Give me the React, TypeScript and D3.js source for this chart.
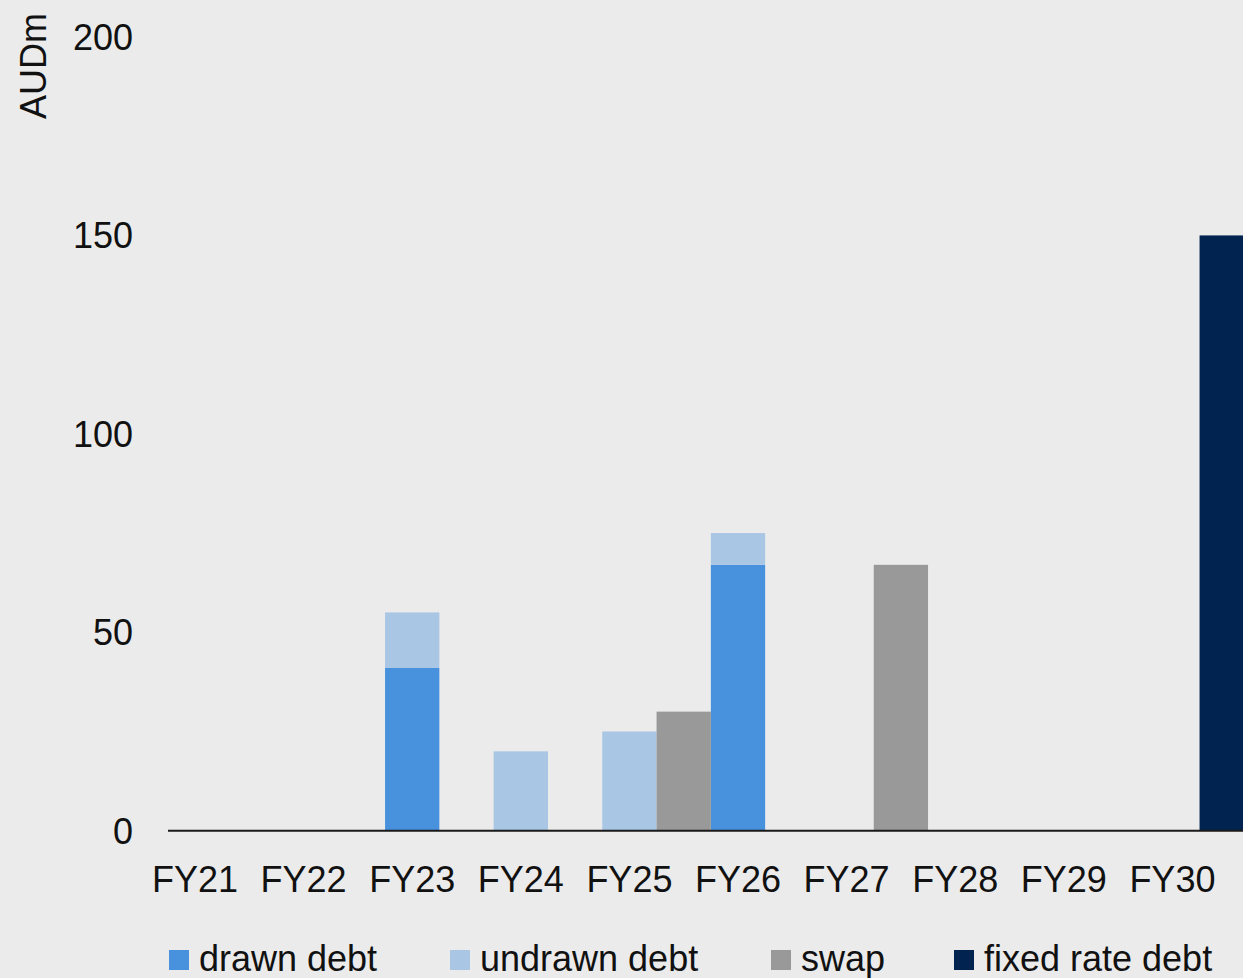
import * as d3 from "d3";

const categories = ["FY21", "FY22", "FY23", "FY24", "FY25", "FY26", "FY27", "FY28", "FY29", "FY30"];
const drawnDebt = [0, 0, 41, 0, 0, 67, 0, 0, 0, 0];
const undrawnDebt = [0, 0, 14, 20, 25, 8, 0, 0, 0, 0];
const swap = [0, 0, 0, 0, 30, 0, 67, 0, 0, 0];
const fixedRateDebt = [0, 0, 0, 0, 0, 0, 0, 0, 0, 150];
const yTicks = [0, 50, 100, 150, 200];

const legendItems = [
  { label: "drawn debt", color: "#4891DC", x: 169 },
  { label: "undrawn debt", color: "#A9C6E5", x: 450 },
  { label: "swap", color: "#999999", x: 771 },
  { label: "fixed rate debt", color: "#00234F", x: 954 },
];

const FONT = "'Liberation Sans', Arial, sans-serif";

function DebtChart({ width = 1243, height = 978 }: { width?: number; height?: number }) {
  const x = d3
    .scaleBand<string>()
    .domain(categories)
    .range([140.7, 140.7 + 108.6 * categories.length])
    .padding(0);
  const y = d3.scaleLinear().domain([0, 200]).range([830.7, 37]);
  const barW = x.bandwidth() / 2;

  const rows = categories.map((c, i) => ({ cat: c, drawn: drawnDebt[i], undrawn: undrawnDebt[i] }));
  const stacked = d3.stack<any>().keys(["drawn", "undrawn"])(rows);
  const stackColors: Record<string, string> = { drawn: "#4891DC", undrawn: "#A9C6E5" };

  return (
    <svg
      width={width}
      height={height}
      style={{ position: "absolute", left: 0, top: 0, display: "block", background: "#EBEBEB" }}
      fontFamily={FONT}
    >
      <rect width={width} height={height} fill="#EBEBEB" />

      {/* debt bars, stacked, centred on each year */}
      {stacked.map(layer => (
        <g key={layer.key} fill={stackColors[layer.key]}>
          {layer.map((d, i) =>
            d[1] - d[0] > 0 ? (
              <rect
                key={i}
                x={(x(categories[i]) ?? 0) + barW / 2}
                y={y(d[1])}
                width={barW}
                height={y(d[0]) - y(d[1])}
              />
            ) : null
          )}
        </g>
      ))}

      {/* swap and fixed rate bars sit half a band to the right */}
      {swap.map((v, i) =>
        v > 0 ? (
          <rect key={"s" + i} x={(x(categories[i]) ?? 0) + barW * 1.5} y={y(v)} width={barW} height={y(0) - y(v)} fill="#999999" />
        ) : null
      )}
      {fixedRateDebt.map((v, i) =>
        v > 0 ? (
          <rect key={"f" + i} x={(x(categories[i]) ?? 0) + barW * 1.5} y={y(v)} width={barW} height={y(0) - y(v)} fill="#00234F" />
        ) : null
      )}

      {/* baseline */}
      <line x1={168} x2={width} y1={y(0)} y2={y(0)} stroke="#1a1a1a" strokeWidth={2} />

      {/* y ticks */}
      {yTicks.map(t => (
        <text key={t} x={133} y={y(t)} dy="0.36em" textAnchor="end" fontSize={36} fill="#111">
          {t}
        </text>
      ))}
      <text transform="translate(46,66) rotate(-90)" textAnchor="middle" fontSize={36} fill="#111">
        AUDm
      </text>

      {/* x labels */}
      {categories.map(c => (
        <text key={c} x={(x(c) ?? 0) + x.bandwidth() / 2} y={891.5} textAnchor="middle" fontSize={36} fill="#111">
          {c}
        </text>
      ))}

      {/* legend */}
      {legendItems.map(l => (
        <g key={l.label}>
          <rect x={l.x} y={950} width={20} height={20} fill={l.color} />
          <text x={l.x + 30} y={970.5} fontSize={36} fill="#111">
            {l.label}
          </text>
        </g>
      ))}
    </svg>
  );
}

export default function App() {
  return (
    <div>
      <DebtChart />
    </div>
  );
}
